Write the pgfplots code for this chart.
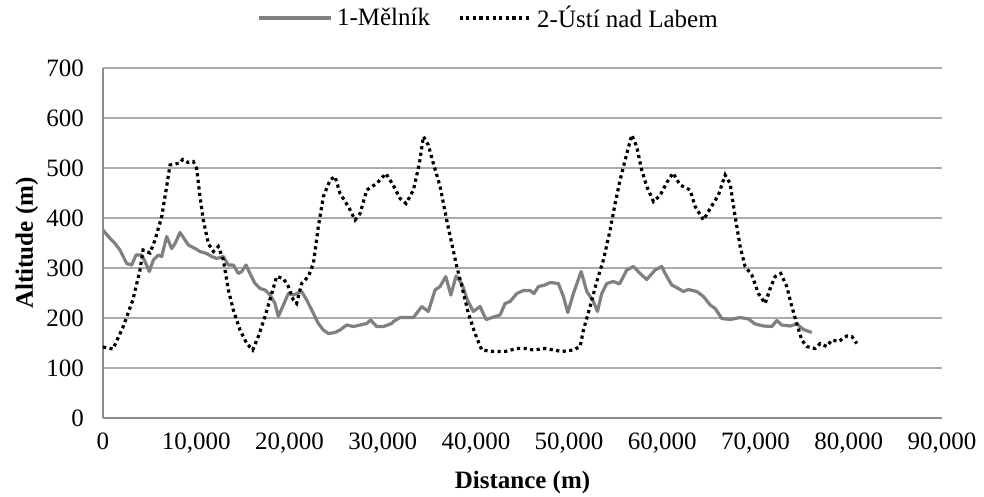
\documentclass[border=0pt]{standalone}
\usepackage{fontspec}
\setmainfont{Liberation Serif}
\usepackage{pgfplots}
\pgfplotsset{compat=1.18}
\definecolor{gridgray}{HTML}{ABABAB}
\definecolor{axisgray}{HTML}{8C8C8C}
\definecolor{linegray}{HTML}{808080}

\pgfplotstableread{
x y
0 376
570 363
1290 349
1820 336
2540 309
3080 306
3540 326
4150 326
4510 313
4970 293
5400 316
5940 326
6300 323
6830 363
7370 339
7730 349
8260 371
8800 356
9160 346
9870 339
10410 333
11120 329
11660 323
12200 319
12910 323
13450 306
13980 306
14520 289
14880 293
15340 306
15770 289
16310 269
16850 259
17380 256
17920 246
18450 229
18810 203
19350 226
19880 249
20420 246
21310 253
21850 236
22390 216
23100 189
23640 176
24180 169
24890 171
25430 176
26140 186
26860 183
27580 186
28290 189
28710 196
29360 183
30080 183
30970 189
31150 193
31870 201
33300 201
34190 223
34900 213
35620 256
36160 263
36770 283
37310 246
37880 284
38490 269
39090 236
39730 213
40450 223
41090 197
42060 203
42600 206
43130 229
43670 233
44390 249
45100 255
45820 255
46240 249
46710 263
47420 266
47960 271
48850 269
49390 243
49860 211
50460 249
51290 293
51900 253
52610 233
53040 213
53500 249
54040 269
54760 273
55400 268
56190 296
56900 303
57620 289
58330 277
59230 296
59940 303
60300 289
61010 266
61730 259
62260 253
62800 257
63700 253
64410 243
65130 226
65670 219
66380 199
67270 197
68350 201
69240 198
69960 188
70850 184
71750 183
72280 195
72810 186
73710 184
74420 188
75140 177
76030 171
}\melnik

\pgfplotstableread{
x y
0 142
1070 138
2150 182
3200 236
3970 296
4300 336
5040 330
5580 356
6300 403
6830 463
7190 506
8260 510
8550 517
9120 511
9690 513
10050 499
10400 443
10760 396
11300 349
11840 333
12370 343
12910 316
13450 256
13980 216
14700 176
15420 149
16060 136
16660 163
17380 203
18100 249
18630 283
19350 279
19880 263
20420 236
20770 229
21310 269
22030 283
22570 309
23100 383
23640 443
24360 476
24890 483
25430 449
26320 423
27040 396
27580 409
28290 456
29360 469
30350 489
31150 465
31870 439
32510 429
33300 456
33940 509
34370 563
34900 546
35440 509
36160 463
36870 396
37410 349
37950 303
38490 263
39200 209
39910 169
40630 136
41880 133
43130 133
44390 139
45280 139
46170 136
47420 139
48320 136
49210 133
50460 136
51180 143
51540 176
52250 223
52970 273
53680 316
54400 376
54940 429
55470 476
56190 529
56720 566
57250 543
57790 496
58330 463
59050 433
59760 445
60480 471
61150 490
61910 466
62980 456
63520 423
64410 396
65130 419
66020 446
66740 486
67270 469
67810 403
68350 343
68880 303
69600 286
70310 249
71030 229
71570 259
72100 283
72710 289
73350 263
73890 223
74420 189
74960 156
75500 143
76390 139
76930 149
77640 143
78180 156
78900 153
79790 164
80330 163
80860 149
}\usti

\begin{document}
\begin{tikzpicture}
\useasboundingbox (-51.5bp,-39.5bp) rectangle (440.5bp,209bp);
\begin{axis}[
    at={(0,0)}, anchor=origin,
    width=419.5bp, height=175bp,
    scale only axis,
    xmin=0, xmax=90000,
    ymin=0, ymax=700,
    xtick={0,10000,...,90000},
    ytick={0,100,...,700},
    axis x line=bottom,
    axis y line=left,
    axis line style={draw=axisgray, line width=0.8bp, -},
    ymajorgrids,
    grid style={draw=gridgray, line width=0.7bp},
    major tick length=0pt,
    scaled x ticks=false,
    /pgf/number format/.cd, 1000 sep={,}, assume math mode=true,
    /pgfplots/.cd,
    tick label style={font=\fontsize{12.5bp}{14bp}\selectfont, black},
    xticklabel style={yshift=-4bp},
    yticklabel style={xshift=-6bp},
    label style={font=\fontsize{12.5bp}{14bp}\selectfont\bfseries},
    xlabel={Distance (m)},
    ylabel={Altitude (m)},
    xlabel style={at={(axis description cs:0.5,-0.185)}, anchor=center},
    ylabel style={at={(axis description cs:-0.0906,0.5)}, anchor=center, rotate=0},
    legend columns=2,
    legend style={draw=none, at={(axis description cs:0.461,1.143)}, anchor=center,
        font=\fontsize{12.5bp}{14bp}\selectfont, /tikz/every even column/.append style={column sep=12bp}},
    legend image code/.code={\draw[#1] (0bp,0bp) -- (36bp,0bp);},
]
% 1-Melnik: solid grey
\addplot[draw=linegray, line width=1.6bp, line join=round] table[x=x,y=y] {\melnik};
\addlegendentry{1-Mělník}
% 2-Usti nad Labem: dotted black
\addplot[draw=black, line width=1.6bp, dash pattern=on 1.6bp off 1.7bp] table[x=x,y=y] {\usti};
\addlegendentry{2-Ústí nad Labem}
\end{axis}
\end{tikzpicture}
\end{document}
